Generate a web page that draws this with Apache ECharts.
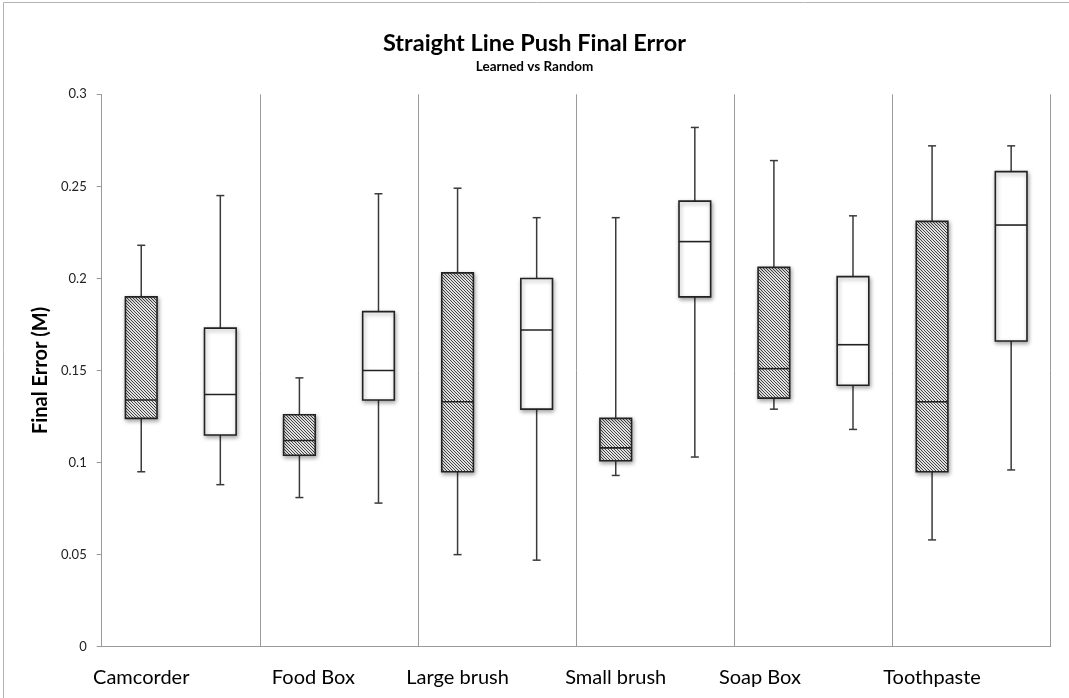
<!DOCTYPE html>
<html>
<head>
<meta charset="utf-8">
<title>Straight Line Push Final Error</title>
<script src="https://cdn.jsdelivr.net/npm/echarts@6/dist/echarts.min.js"></script>
<style>
  html, body { margin: 0; padding: 0; background: #ffffff; }
  #chart { width: 1069px; height: 698px; }
</style>
</head>
<body>
<div id="chart"></div>
<script>
// Objects pushed along a straight line
const categories = ['Camcorder', 'Food Box', 'Large brush', 'Small brush', 'Soap Box', 'Toothpaste'];

// Box statistics per object: [min, Q1, median, Q3, max]
const learned = [
  [0.095, 0.124, 0.134, 0.190, 0.218],
  [0.081, 0.104, 0.112, 0.126, 0.146],
  [0.050, 0.095, 0.133, 0.203, 0.249],
  [0.093, 0.101, 0.108, 0.124, 0.233],
  [0.129, 0.135, 0.151, 0.206, 0.264],
  [0.058, 0.095, 0.133, 0.231, 0.272]
];
const random = [
  [0.088, 0.115, 0.137, 0.173, 0.245],
  [0.078, 0.134, 0.150, 0.182, 0.246],
  [0.047, 0.129, 0.172, 0.200, 0.233],
  [0.103, 0.190, 0.220, 0.242, 0.282],
  [0.118, 0.142, 0.164, 0.201, 0.234],
  [0.096, 0.166, 0.229, 0.258, 0.272]
];

const yTicks = { min: 0, max: 0.3, interval: 0.05 };

// Horizontal nudge (px) of each object's name under its pair of boxes
const labelNudge = [0, 14, 0, 0, -14, 0];

// Diagonal hatch tile used to fill the "learned" boxes
function makeHatch() {
  const size = 3;
  const c = document.createElement('canvas');
  c.width = size; c.height = size;
  const ctx = c.getContext('2d');
  const img = ctx.createImageData(size, size);
  for (let y = 0; y < size; y++) {
    for (let x = 0; x < size; x++) {
      const i = (y * size + x) * 4;
      const on = ((x - y) % size + size) % size === 0;
      const v = on ? 0x44 : 0xe2;
      img.data[i] = v; img.data[i + 1] = v; img.data[i + 2] = v; img.data[i + 3] = 255;
    }
  }
  ctx.putImageData(img, 0, 0);
  return c;
}
const hatch = { image: makeHatch(), repeat: 'repeat' };

// Two slots per object: learned at even index, random at odd index
const slots = [];
categories.forEach(c => { slots.push(c); slots.push(c); });

function toRows(stats, offset) {
  return stats.map((s, i) => [i * 2 + offset].concat(s));
}

function boxRenderer(fill) {
  return function (params, api) {
    const x = api.value(0);
    const pLo = api.coord([x, api.value(1)]);
    const pQ1 = api.coord([x, api.value(2)]);
    const pMed = api.coord([x, api.value(3)]);
    const pQ3 = api.coord([x, api.value(4)]);
    const pHi = api.coord([x, api.value(5)]);
    const band = api.size([1, 0])[0];
    const bw = band * 0.4;
    const cap = 8;
    const cx = pLo[0];
    const left = cx - bw / 2;
    const lineStyle = { stroke: '#3a3a3a', lineWidth: 1.5 };
    return {
      type: 'group',
      children: [
        { type: 'line', shape: { x1: cx, y1: pHi[1], x2: cx, y2: pQ3[1] }, style: lineStyle },
        { type: 'line', shape: { x1: cx - cap / 2, y1: pHi[1], x2: cx + cap / 2, y2: pHi[1] }, style: lineStyle },
        { type: 'line', shape: { x1: cx, y1: pQ1[1], x2: cx, y2: pLo[1] }, style: lineStyle },
        { type: 'line', shape: { x1: cx - cap / 2, y1: pLo[1], x2: cx + cap / 2, y2: pLo[1] }, style: lineStyle },
        {
          type: 'rect',
          shape: { x: left, y: pQ3[1], width: bw, height: pQ1[1] - pQ3[1] },
          style: {
            fill: fill, stroke: '#222222', lineWidth: 1.6,
            shadowBlur: 4, shadowOffsetX: 1, shadowOffsetY: 2, shadowColor: 'rgba(0,0,0,0.35)'
          }
        },
        { type: 'line', shape: { x1: left, y1: pMed[1], x2: left + bw, y2: pMed[1] }, style: { stroke: '#222222', lineWidth: 1.6 } }
      ]
    };
  };
}

const fontFamily = 'Lato, "Open Sans", sans-serif';

// Rich styles that shift a label left or right by padding one side
const labelRich = {};
labelNudge.forEach((n, i) => {
  labelRich['n' + i] = {
    fontSize: 20, color: '#000000', fontFamily: fontFamily,
    padding: n >= 0 ? [0, 0, 0, 2 * n] : [0, -2 * n, 0, 0]
  };
});

const chart = echarts.init(document.getElementById('chart'), null, { renderer: 'canvas' });
chart.setOption({
  backgroundColor: '#ffffff',
  animation: false,
  textStyle: { fontFamily: fontFamily },
  title: {
    text: 'Straight Line Push Final Error',
    subtext: 'Learned vs Random',
    left: 'center',
    top: 26,
    itemGap: 5,
    textStyle: { fontFamily: fontFamily, fontSize: 23.5, fontWeight: 'bold', color: '#000000' },
    subtextStyle: { fontFamily: fontFamily, fontSize: 13.5, fontWeight: 'bold', color: '#000000' }
  },
  graphic: [
    {
      type: 'rect',
      shape: { x: 3.5, y: 2.5, width: 1200, height: 800 },
      style: { fill: 'none', stroke: '#b4b4b4', lineWidth: 1 },
      silent: true
    }
  ],
  grid: { left: 101.7, right: 18.3, top: 94.3, bottom: 51.3, containLabel: false },
  xAxis: [
    {
      type: 'category',
      data: slots,
      position: 'bottom',
      axisLine: { show: true, lineStyle: { color: '#9a9a9a', width: 1 } },
      axisTick: { show: false },
      splitLine: { show: false },
      axisLabel: {
        interval: function (index) { return index % 2 === 0; },
        formatter: function (value, index) {
          const k = Math.floor(index / 2);
          return '{n' + k + '|' + value + '}';
        },
        rich: labelRich,
        margin: 21,
        fontSize: 20,
        color: '#000000',
        fontFamily: fontFamily
      }
    },
    {
      type: 'category',
      data: categories,
      position: 'top',
      axisLine: { show: false },
      axisTick: { show: false },
      axisLabel: { show: false },
      splitLine: { show: true, interval: 0, lineStyle: { color: '#9a9a9a', width: 1 } }
    }
  ],
  yAxis: {
    type: 'value',
    min: yTicks.min,
    max: yTicks.max,
    interval: yTicks.interval,
    name: 'Final Error (M)',
    nameLocation: 'middle',
    nameRotate: 90,
    nameGap: 42,
    nameTextStyle: { fontFamily: fontFamily, fontSize: 20, fontWeight: 'bold', color: '#000000' },
    axisLine: { show: true, lineStyle: { color: '#9a9a9a', width: 1 } },
    axisTick: { show: true, length: 5, lineStyle: { color: '#9a9a9a' } },
    splitLine: { show: false },
    axisLabel: { margin: 15, fontSize: 13, color: '#222222', fontFamily: fontFamily }
  },
  series: [
    {
      name: 'Learned',
      type: 'custom',
      xAxisIndex: 0,
      renderItem: boxRenderer(hatch),
      encode: { x: 0, y: [1, 2, 3, 4, 5] },
      data: toRows(learned, 0),
      z: 3
    },
    {
      name: 'Random',
      type: 'custom',
      xAxisIndex: 0,
      renderItem: boxRenderer('#ffffff'),
      encode: { x: 0, y: [1, 2, 3, 4, 5] },
      data: toRows(random, 1),
      z: 3
    }
  ]
});
</script>
</body>
</html>
